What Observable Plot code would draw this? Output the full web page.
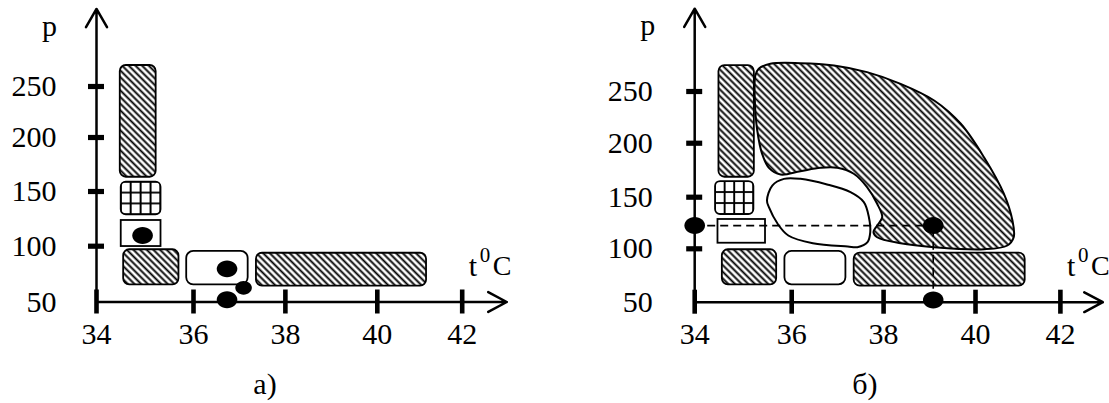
<!DOCTYPE html>
<html><head><meta charset="utf-8">
<script src="https://cdn.jsdelivr.net/npm/d3@7"></script>
<script src="https://cdn.jsdelivr.net/npm/@observablehq/plot@0.6"></script>
<style>
html,body{margin:0;padding:0;background:#fff;}
#row{display:flex;width:1109px;}
.panel{flex:none;}
.cap{font-family:"Liberation Serif","Times New Roman",serif;font-size:30px;line-height:39px;height:39px;text-align:center;color:#000;}
svg{display:block;}
</style></head><body>
<svg width="0" height="0" style="position:absolute">
<defs>
<pattern id="hatch" patternUnits="userSpaceOnUse" width="4.7" height="4.7" patternTransform="rotate(45)">
<rect width="4.7" height="4.7" fill="white"/>
<line x1="0" y1="2.35" x2="4.7" y2="2.35" stroke="black" stroke-width="1.9"/>
</pattern>
<pattern id="grid" patternUnits="objectBoundingBox" width="0.25" height="0.3333333" patternContentUnits="objectBoundingBox">
<rect width="0.25" height="0.3333333" fill="white"/>
<rect x="0" y="0" width="0.025" height="0.3333333" fill="black"/>
<rect x="0.225" y="0" width="0.025" height="0.3333333" fill="black"/>
<rect x="0" y="0" width="0.25" height="0.028" fill="black"/>
<rect x="0" y="0.3053333" width="0.25" height="0.028" fill="black"/>
</pattern>
</defs></svg>
<div id="row">
  <div class="panel" id="pa"><div class="cap" id="ca" style="padding-right:24px"></div></div>
  <div class="panel" id="pb"><div class="cap" id="cb" style="padding-left:67px"></div></div>
</div>
<script>
// ---- data ----
const xTicks = [34, 36, 38, 40, 42];
const yTickMarks = [100, 150, 200, 250];
const yLabels = [50, 100, 150, 200, 250];
const captions = ["а)", "б)"];

// panel а)
const hatchRectsA = [
  {t1: 34.49, t2: 35.23, p1: 163.2, p2: 270.6},
  {t1: 34.56, t2: 35.70, p1: 65.4, p2: 96.8},
  {t1: 37.37, t2: 41.16, p1: 64.2, p2: 93.7}
];
const gridRectsA = [{t1: 34.51, t2: 35.33, p1: 128.7, p2: 158.6}];
const squareRectsA = [{t1: 34.51, t2: 35.33, p1: 99.7, p2: 123.5}];
const roundRectsA = [{t1: 35.86, t2: 37.19, p1: 65.4, p2: 95.3}];
const bigDotsA = [{t: 34.95, p: 109.8}, {t: 36.73, p: 79.7}, {t: 36.73, p: 52}];
const smallDotsA = [{t: 37.09, p: 62.7}];

// panel б)
const hatchRectsB = [
  {t1: 34.50, t2: 35.23, p1: 168.5, p2: 275.1},
  {t1: 34.57, t2: 35.69, p1: 66.3, p2: 99.1},
  {t1: 37.36, t2: 41.17, p1: 65.0, p2: 95.9}
];
const gridRectsB = [{t1: 34.43, t2: 35.22, p1: 133.2, p2: 164.5}];
const squareRectsB = [{t1: 34.48, t2: 35.46, p1: 105.4, p2: 128.4}];
const roundRectsB = [{t1: 35.86, t2: 37.18, p1: 66.3, p2: 97.5}];
const bigDotsB = [{t: 34, p: 122.5}, {t: 39.08, p: 122.5}, {t: 39.08, p: 52}];
const dashH = [{t1: 34, t2: 39.08, p: 122.5}];
const dashV = [{t: 39.08, p1: 50, p2: 122.5}];
const blobOuterB = [
  [35.25,265.5],[35.32,272.0],[35.56,276.8],[36.19,277.4],[36.92,275.2],[37.64,268.7],
  [38.37,257.4],[39.10,241.3],[39.68,218.8],[40.20,187.0],[40.67,153.1],[40.87,127.4],
  [40.90,111.2],[40.75,103.2],[40.20,99.6],[39.10,101.6],[38.37,105.4],[37.86,111.2],
  [37.78,116.1],[37.86,122.6],[37.97,130.6],[37.86,143.6],[37.64,159.3],[37.35,171.7],
  [36.99,177.2],[36.63,177.2],[36.19,174.1],[35.77,171.0],[35.53,177.2],[35.39,190.2],
  [35.29,212.3],[35.24,241.3]
].map(([t, p]) => ({t, p}));
const blobInnerB = [
  [35.49,146.9],[35.60,160.8],[35.84,167.0],[36.19,167.0],[36.77,161.8],[37.28,154.6],
  [37.57,145.2],[37.68,130.6],[37.71,116.1],[37.65,106.4],[37.43,101.6],[37.22,102.2],
  [36.46,105.4],[35.93,112.9],[35.71,124.3],[35.53,140.3]
].map(([t, p]) => ({t, p}));

// the drawn axes are not evenly graduated: where each tick really sits
const xTickPlaces = [34, 36.122, 38.132, 40.143, 42];
const yTickPlacesA = [50, 101.79, 152.55, 202.67, 250];
const yTickPlacesB = [50, 100.69, 149.67, 200.9, 250];

// ---- drawing ----
const FONT = '"Liberation Serif","Times New Roman",serif';
const ellipse = {
  draw(ctx, size) {
    const r = Math.sqrt(size / Math.PI), rx = r * 1.12, ry = r * 0.92, k = 0.5523;
    ctx.moveTo(rx, 0);
    ctx.bezierCurveTo(rx, ry * k, rx * k, ry, 0, ry);
    ctx.bezierCurveTo(-rx * k, ry, -rx, ry * k, -rx, 0);
    ctx.bezierCurveTo(-rx, -ry * k, -rx * k, -ry, 0, -ry);
    ctx.bezierCurveTo(rx * k, -ry, rx, -ry * k, rx, 0);
    ctx.closePath();
  }
};
const R = {x1: "t1", x2: "t2", y1: "p1", y2: "p2", stroke: "black", strokeWidth: 1.8};
const warpX = d3.scaleLinear().domain(xTicks).range(xTickPlaces);

function panel(cfg) {
  const warpY = d3.scaleLinear().domain(yLabels).range(cfg.yPlaces);
  const marks = [
    Plot.rect(cfg.hatch, {...R, rx: 6, fill: "url(#hatch)"}),
    Plot.rect(cfg.grid, {...R, rx: 5, fill: "url(#grid)"}),
    Plot.rect(cfg.square, {...R, fill: "white"}),
    Plot.rect(cfg.round, {...R, rx: 7, fill: "white"}),
    ...(cfg.extra || []),
    Plot.arrow([0], {x1: () => 34, y1: () => 50, x2: () => cfg.xEnd, y2: () => 50,
      stroke: "black", strokeWidth: 2.5, headLength: 12.6, headAngle: 56}),
    Plot.arrow([0], {x1: () => 34, y1: () => 50, x2: () => 34, y2: () => cfg.yEnd,
      stroke: "black", strokeWidth: 2.5, headLength: 12.6, headAngle: 60}),
    Plot.ruleX(xTicks, {x: d => d, y1: () => 50, y2: () => 50, insetTop: -12, insetBottom: -12,
      stroke: "black", strokeWidth: 4.6}),
    Plot.ruleY(yTickMarks, {y: d => d, x1: () => 34, x2: () => 34, insetLeft: -8, insetRight: -8,
      stroke: "black", strokeWidth: 5.2}),
    Plot.dot(cfg.bigDots, {x: "t", y: "p", r: 9.2, symbol: ellipse, fill: "black", stroke: "none"}),
    Plot.dot(cfg.smallDots || [], {x: "t", y: "p", r: 7.4, symbol: ellipse, fill: "black", stroke: "none"}),
    Plot.text(xTicks, {x: d => d, y: () => 50, text: d => String(d), dy: 32, fontSize: 30,
      fontFamily: FONT, fill: "black", textAnchor: "middle", lineAnchor: "middle"}),
    Plot.text(yLabels, {x: () => 34, y: d => d, text: d => String(d), dx: cfg.labelDx, fontSize: 30,
      fontFamily: FONT, fill: "black", textAnchor: "end", lineAnchor: "middle"}),
    Plot.text(["p"], {x: () => 34, y: () => cfg.yEnd, text: d => d, dx: -47, dy: 17, fontSize: 30,
      fontFamily: FONT, fill: "black", textAnchor: "middle", lineAnchor: "middle"}),
    Plot.text(["t"], {x: () => 42, y: () => 50, text: d => d, dx: 6.5, dy: -36, fontSize: 30,
      fontFamily: FONT, fill: "black", textAnchor: "start", lineAnchor: "middle"}),
    Plot.text(["0"], {x: () => 42, y: () => 50, text: d => d, dx: 17.5, dy: -47, fontSize: 21,
      fontFamily: FONT, fill: "black", textAnchor: "start", lineAnchor: "middle"}),
    Plot.text(["C"], {x: () => 42, y: () => 50, text: d => d, dx: 30.5, dy: -36, fontSize: 28,
      fontFamily: FONT, fill: "black", textAnchor: "start", lineAnchor: "middle"})
  ];
  return Plot.plot({
    width: cfg.width, height: 364, margin: 0,
    x: {type: "linear", transform: warpX, domain: [34, 42], range: cfg.xr, axis: null},
    y: {type: "linear", transform: warpY, domain: [50, 250], range: cfg.yr, axis: null},
    style: {background: "white", overflow: "visible"},
    marks
  });
}

const figA = panel({
  width: 554, xr: [96, 461.7], yr: [301.5, 86], yPlaces: yTickPlacesA,
  hatch: hatchRectsA, grid: gridRectsA, square: squareRectsA, round: roundRectsA,
  bigDots: bigDotsA, smallDots: smallDotsA, xEnd: 43.05, yEnd: 326, labelDx: -40
});
const figB = panel({
  width: 555, xr: [140.2, 505.9], yr: [301.7, 91], yPlaces: yTickPlacesB,
  hatch: hatchRectsB, grid: gridRectsB, square: squareRectsB, round: roundRectsB,
  bigDots: bigDotsB, xEnd: 43.0, yEnd: 330, labelDx: -42,
  extra: [
    Plot.line(blobOuterB, {x: "t", y: "p", curve: "catmull-rom-closed", fill: "url(#hatch)",
      stroke: "black", strokeWidth: 2}),
    Plot.line(blobInnerB, {x: "t", y: "p", curve: "catmull-rom-closed", fill: "white",
      stroke: "black", strokeWidth: 2}),
    Plot.ruleY(dashH, {y: "p", x1: "t1", x2: "t2", stroke: "black", strokeWidth: 1.6, strokeDasharray: "8,5"}),
    Plot.ruleX(dashV, {x: "t", y1: "p1", y2: "p2", stroke: "black", strokeWidth: 1.6, strokeDasharray: "8,5"})
  ]
});
const pa = document.getElementById("pa"), pb = document.getElementById("pb");
pa.insertBefore(figA, pa.firstChild);
pb.insertBefore(figB, pb.firstChild);
document.getElementById("ca").textContent = captions[0];
document.getElementById("cb").textContent = captions[1];
</script>
</body></html>
